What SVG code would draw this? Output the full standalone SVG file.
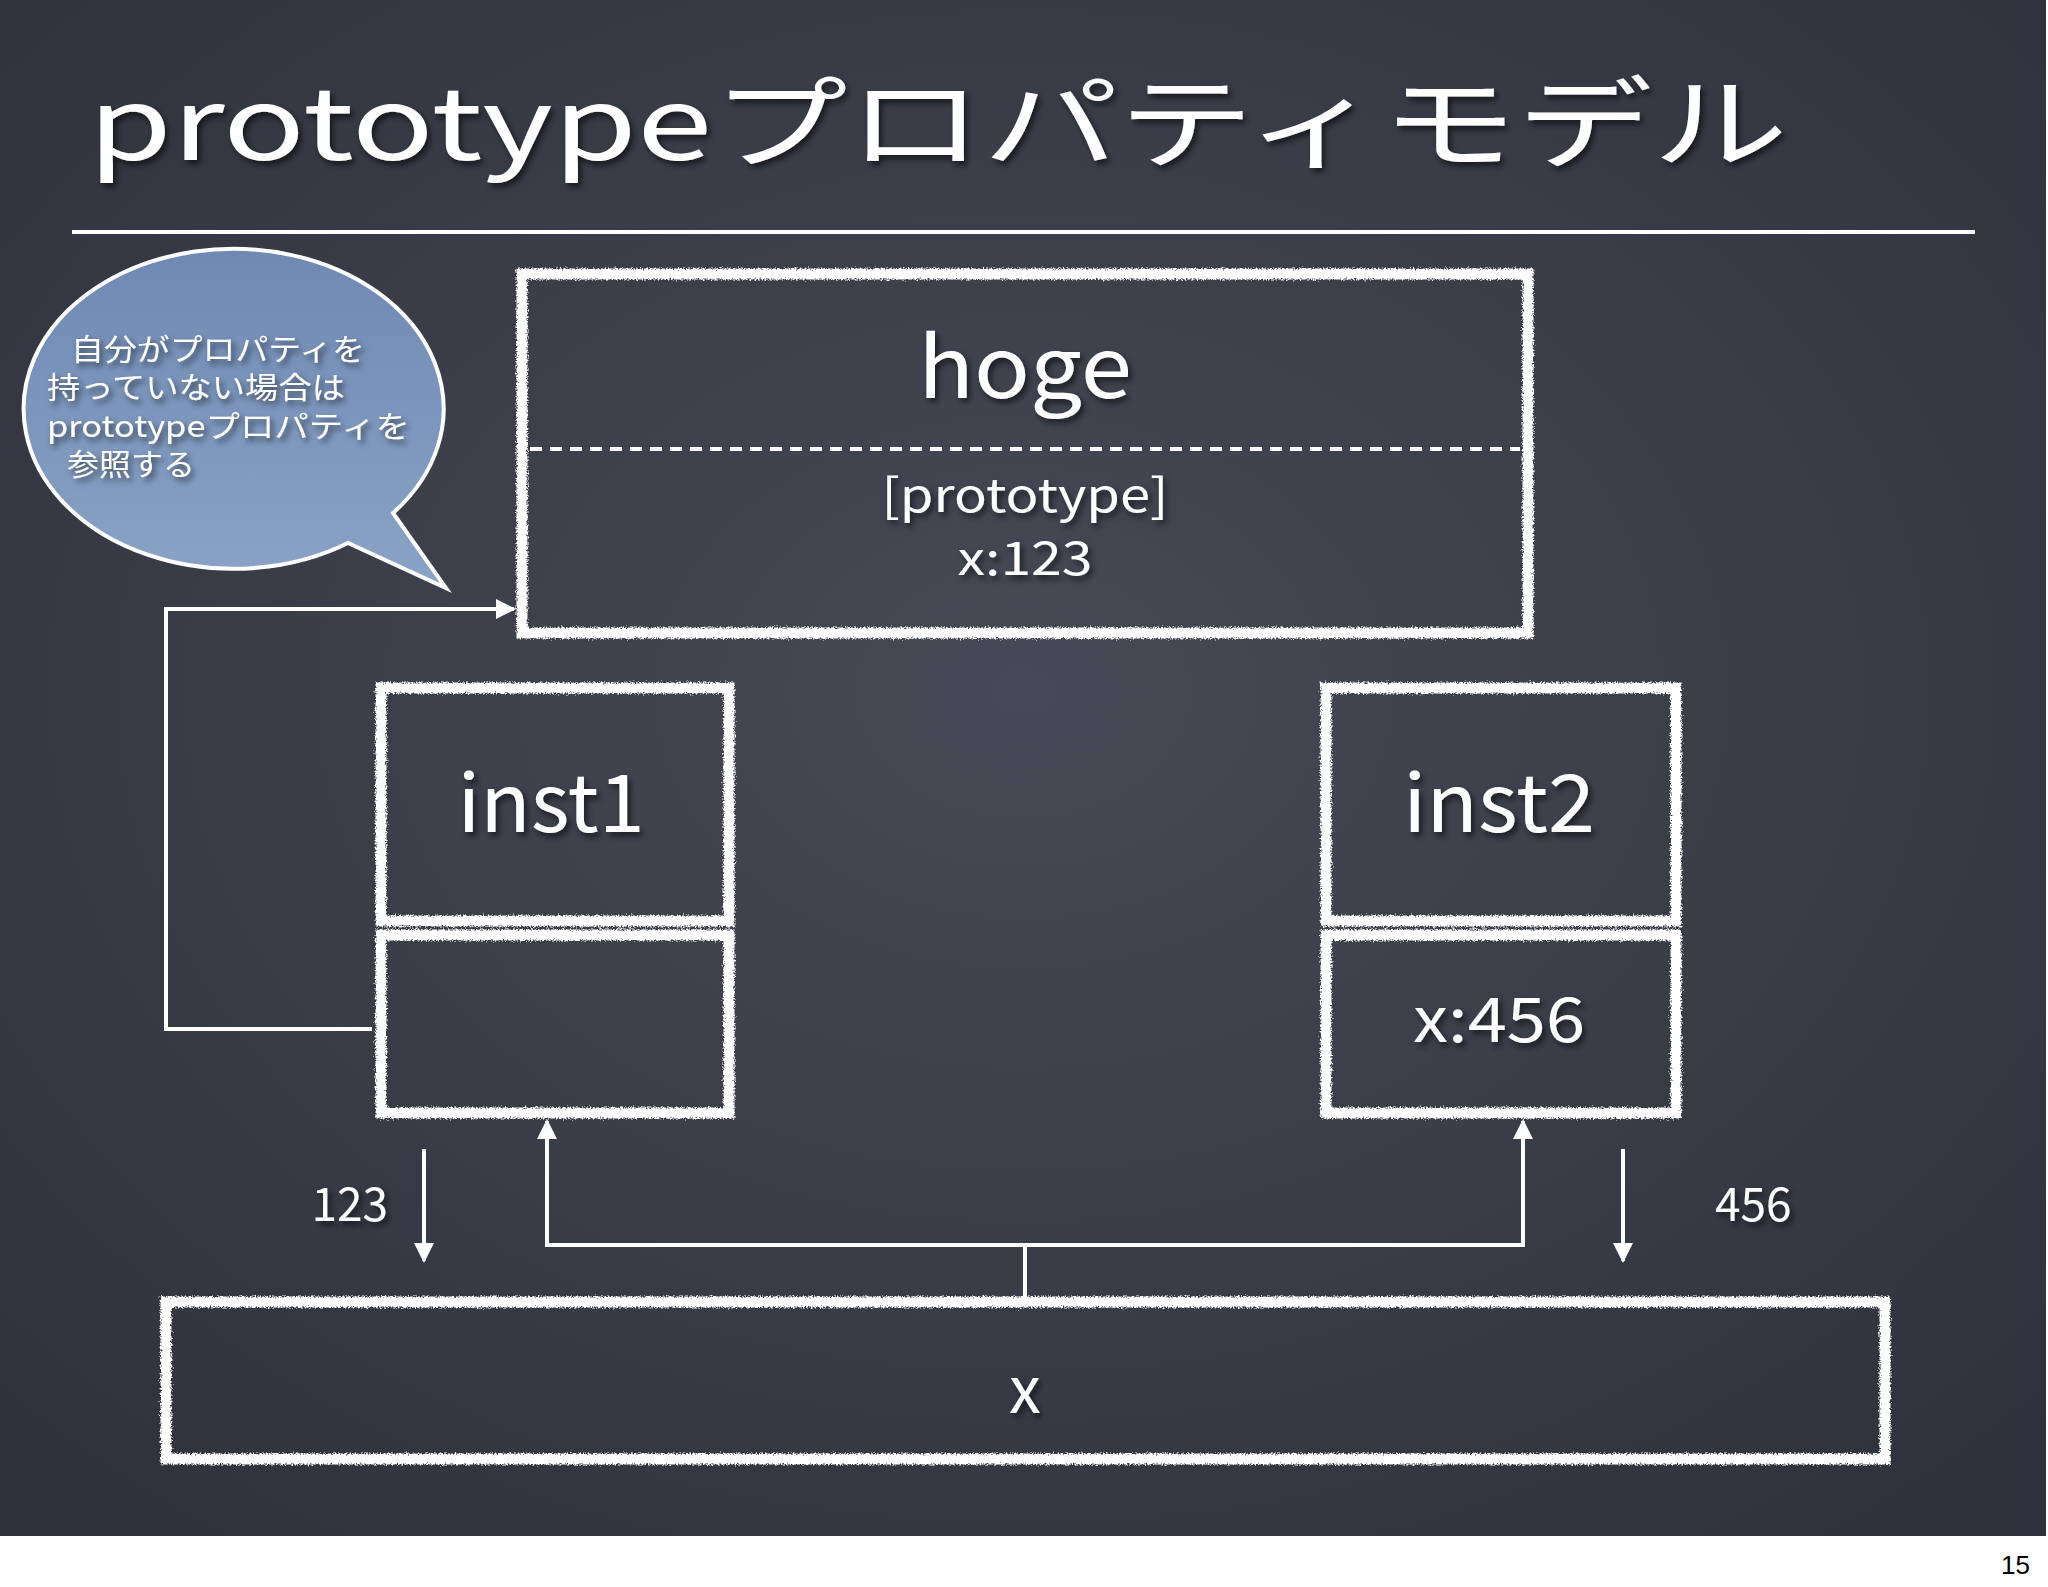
<svg xmlns="http://www.w3.org/2000/svg" width="2048" height="1587" viewBox="0 0 2048 1587">
<defs>
<radialGradient id="bg" cx="50%" cy="45%" r="70%"><stop offset="0" stop-color="#454a56"/><stop offset="1" stop-color="#2e323c"/></radialGradient>
<linearGradient id="bub" x1="0" y1="0" x2="0" y2="1"><stop offset="0" stop-color="#6f89b3"/><stop offset="1" stop-color="#8aa3c6"/></linearGradient>
<filter id="chalk" x="-5%" y="-5%" width="110%" height="110%">
<feTurbulence type="fractalNoise" baseFrequency="0.6" numOctaves="2" result="n"/>
<feDisplacementMap in="SourceGraphic" in2="n" scale="6"/>
</filter>
<filter id="sh" x="-5%" y="-5%" width="110%" height="120%"><feDropShadow dx="3" dy="4" stdDeviation="3" flood-color="#000" flood-opacity="0.6"/></filter>
<marker id="ah" viewBox="0 0 10 10" refX="9" refY="5" markerWidth="5" markerHeight="5" orient="auto"><path d="M0,0 L10,5 L0,10 z" fill="#fff"/></marker>
<style>
.t{fill:#fff;font-family:"Noto Sans CJK JP","Noto Sans",sans-serif;filter:url(#sh)}
.box{fill:none;stroke:#fff;stroke-width:11;filter:url(#chalk)}
.ln{fill:none;stroke:#fff;stroke-width:4}
</style>
</defs>
<rect width="2048" height="1587" fill="#fff"/>
<rect width="2046" height="1536" fill="url(#bg)"/>
<text x="2030" y="1574" font-family="Liberation Sans,sans-serif" font-size="26" text-anchor="end" fill="#000">15</text>
<text class="t" x="88" y="160" font-size="100" textLength="1700" lengthAdjust="spacingAndGlyphs">prototypeプロパティモデル</text>
<line x1="72" y1="232" x2="1975" y2="232" stroke="#fff" stroke-width="4"/>
<g id="bubble">
<path d="M393,513 A210,160 0 1 0 348,543 L446,588 Z" fill="url(#bub)" stroke="#fff" stroke-width="4"/>
<g class="t" font-size="30">
<text x="71" y="360" textLength="294" lengthAdjust="spacingAndGlyphs">自分がプロパティを</text>
<text x="47" y="398" textLength="298" lengthAdjust="spacingAndGlyphs">持っていない場合は</text>
<text x="47" y="437" textLength="363" lengthAdjust="spacingAndGlyphs">prototypeプロパティを</text>
<text x="67" y="475" textLength="128" lengthAdjust="spacingAndGlyphs">参照する</text>
</g>
</g>
<g id="hoge">
<rect class="box" x="522" y="274" width="1006" height="359"/>
<line x1="530" y1="449" x2="1520" y2="449" stroke="#fff" stroke-width="4" stroke-dasharray="12,8"/>
<text class="t" x="1025" y="398" font-size="85" text-anchor="middle" textLength="214" lengthAdjust="spacingAndGlyphs">hoge</text>
<text class="t" x="1025" y="512" font-size="46" text-anchor="middle" textLength="287" lengthAdjust="spacingAndGlyphs">[prototype]</text>
<text class="t" x="1025" y="575" font-size="46" text-anchor="middle" textLength="135" lengthAdjust="spacingAndGlyphs">x:123</text>
</g>
<g id="inst1">
<rect class="box" x="381" y="688" width="348" height="233"/>
<rect class="box" x="381" y="935" width="348" height="178"/>
<text class="t" x="551" y="832" font-size="80" text-anchor="middle" textLength="187" lengthAdjust="spacingAndGlyphs">inst1</text>
</g>
<g id="inst2">
<rect class="box" x="1326" y="688" width="350" height="233"/>
<rect class="box" x="1326" y="935" width="350" height="178"/>
<text class="t" x="1499" y="832" font-size="80" text-anchor="middle" textLength="192" lengthAdjust="spacingAndGlyphs">inst2</text>
<text class="t" x="1499" y="1042" font-size="62" text-anchor="middle" textLength="172" lengthAdjust="spacingAndGlyphs">x:456</text>
</g>
<g id="xnode">
<rect class="box" x="166" y="1302" width="1719" height="157"/>
<text class="t" x="1025" y="1413" font-size="64" text-anchor="middle">x</text>
</g>
<g id="connectors">
<polyline class="ln" points="372,1029 166,1029 166,609 514,609" marker-end="url(#ah)"/>
<polyline class="ln" points="1025,1299 1025,1245 547,1245 547,1121" marker-end="url(#ah)"/>
<polyline class="ln" points="1025,1245 1523,1245 1523,1121" marker-end="url(#ah)"/>
<line class="ln" x1="424" y1="1149" x2="424" y2="1261" marker-end="url(#ah)"/>
<line class="ln" x1="1623" y1="1149" x2="1623" y2="1261" marker-end="url(#ah)"/>
<text class="t" x="388" y="1221" font-size="46" text-anchor="end">123</text>
<text class="t" x="1715" y="1221" font-size="46">456</text>
</g>
</svg>
